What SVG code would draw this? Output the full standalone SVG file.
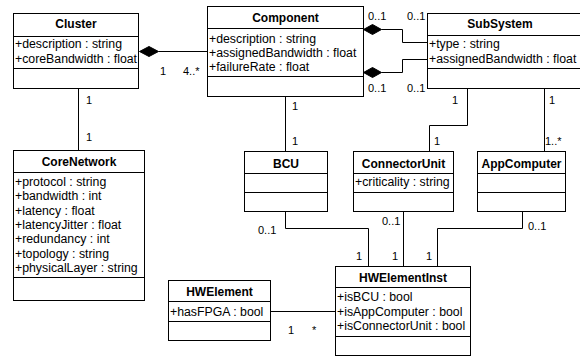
<svg xmlns="http://www.w3.org/2000/svg" width="580" height="358" viewBox="0 0 580 358">
  <style>
    .box { fill: #fff; stroke: #000; stroke-width: 1; }
    .sep { stroke: #000; stroke-width: 1; }
    .title { font-family: "Liberation Sans", Arial, sans-serif; font-size: 12px; font-weight: bold; text-anchor: middle; fill: #000; }
    .attr { font-family: "Liberation Sans", Arial, sans-serif; font-size: 12.3px; fill: #000; }
    .mult { font-family: "Liberation Sans", Arial, sans-serif; font-size: 11px; fill: #000; }
    .edge { fill: none; stroke: #000; stroke-width: 1; }
    .diamond { fill: #000; stroke: #000; stroke-width: 1; }
  </style>
  <rect width="580" height="358" fill="#fff"/>

  <!-- associations and compositions -->
  <g id="connectors">
    <path class="edge" d="M158.5,51.5 H207.5"/>
    <polygon class="diamond" points="139.5,51.5 149,46.5 158.5,51.5 149,56.5"/>
    <path class="edge" d="M381.5,29.5 H402.5 V42.5 H427.5"/>
    <polygon class="diamond" points="363.5,29.5 372.5,24.5 381.5,29.5 372.5,34.5"/>
    <path class="edge" d="M381.5,72.5 H402.5 V59.5 H427.5"/>
    <polygon class="diamond" points="363.5,72.5 372.5,67.5 381.5,72.5 372.5,77.5"/>
    <path class="edge" d="M78.5,88.5 V150.5"/>
    <path class="edge" d="M285.5,96.5 V151.5"/>
    <path class="edge" d="M467.5,88.5 V125.5 H429.5 V151.5"/>
    <path class="edge" d="M544.5,88.5 V151.5"/>
    <path class="edge" d="M285.5,211.5 V228.5 H368.5 V266.5"/>
    <path class="edge" d="M403.5,211.5 V266.5"/>
    <path class="edge" d="M522.5,211.5 V228.5 H437.5 V266.5"/>
    <path class="edge" d="M270.5,311.5 H335.5"/>

    <text class="mult" x="160" y="75">1</text>
    <text class="mult" x="183" y="75">4..*</text>
    <text class="mult" x="368" y="20">0..1</text>
    <text class="mult" x="407" y="20">0..1</text>
    <text class="mult" x="368" y="92">0..1</text>
    <text class="mult" x="407" y="92">0..1</text>
    <text class="mult" x="86" y="104">1</text>
    <text class="mult" x="86" y="141">1</text>
    <text class="mult" x="292" y="110">1</text>
    <text class="mult" x="292" y="145">1</text>
    <text class="mult" x="452" y="104">1</text>
    <text class="mult" x="434" y="145">1</text>
    <text class="mult" x="549" y="104">1</text>
    <text class="mult" x="545" y="145">1..*</text>
    <text class="mult" x="258" y="234">0..1</text>
    <text class="mult" x="382" y="225">0..1</text>
    <text class="mult" x="528" y="230">0..1</text>
    <text class="mult" x="356" y="260">1</text>
    <text class="mult" x="392" y="260">1</text>
    <text class="mult" x="426" y="260">1</text>
    <text class="mult" x="288" y="334">1</text>
    <text class="mult" x="312" y="334">*</text>
  </g>

  <g id="Cluster">
    <rect class="box" x="13.5" y="13.5" width="125" height="75"/>
    <line class="sep" x1="13.5" y1="36.5" x2="138.5" y2="36.5"/>
    <line class="sep" x1="13.5" y1="68.5" x2="138.5" y2="68.5"/>
    <text class="title" x="76" y="28">Cluster</text>
    <text class="attr" x="15" y="48">+description : string</text>
    <text class="attr" x="15" y="63">+coreBandwidth : float</text>
  </g>

  <g id="Component">
    <rect class="box" x="207.5" y="6.5" width="156" height="90"/>
    <line class="sep" x1="207.5" y1="28.5" x2="363.5" y2="28.5"/>
    <line class="sep" x1="207.5" y1="76.5" x2="363.5" y2="76.5"/>
    <text class="title" x="285.5" y="21.5">Component</text>
    <text class="attr" x="209" y="42.5">+description : string</text>
    <text class="attr" x="209" y="57">+assignedBandwidth : float</text>
    <text class="attr" x="209" y="71">+failureRate : float</text>
  </g>

  <g id="SubSystem">
    <rect class="box" x="427.5" y="13.5" width="156" height="75"/>
    <line class="sep" x1="427.5" y1="35.5" x2="583.5" y2="35.5"/>
    <line class="sep" x1="427.5" y1="68.5" x2="583.5" y2="68.5"/>
    <text class="title" x="500" y="28">SubSystem</text>
    <text class="attr" x="429" y="48">+type : string</text>
    <text class="attr" x="429" y="63">+assignedBandwidth : float</text>
  </g>

  <g id="CoreNetwork">
    <rect class="box" x="13.5" y="150.5" width="131" height="150"/>
    <line class="sep" x1="13.5" y1="172.5" x2="144.5" y2="172.5"/>
    <line class="sep" x1="13.5" y1="277.5" x2="144.5" y2="277.5"/>
    <text class="title" x="79" y="166">CoreNetwork</text>
    <text class="attr" x="15" y="186">+protocol : string</text>
    <text class="attr" x="15" y="200.3">+bandwidth : int</text>
    <text class="attr" x="15" y="214.7">+latency : float</text>
    <text class="attr" x="15" y="229">+latencyJitter : float</text>
    <text class="attr" x="15" y="243.3">+redundancy : int</text>
    <text class="attr" x="15" y="257.7">+topology : string</text>
    <text class="attr" x="15" y="272">+physicalLayer : string</text>
  </g>

  <g id="BCU">
    <rect class="box" x="244.5" y="151.5" width="83" height="60"/>
    <line class="sep" x1="244.5" y1="173.5" x2="327.5" y2="173.5"/>
    <line class="sep" x1="244.5" y1="192.5" x2="327.5" y2="192.5"/>
    <text class="title" x="286" y="167.5">BCU</text>
  </g>

  <g id="ConnectorUnit">
    <rect class="box" x="353.5" y="151.5" width="100" height="60"/>
    <line class="sep" x1="353.5" y1="173.5" x2="453.5" y2="173.5"/>
    <line class="sep" x1="353.5" y1="192.5" x2="453.5" y2="192.5"/>
    <text class="title" x="403.5" y="167.5">ConnectorUnit</text>
    <text class="attr" x="355" y="186">+criticality : string</text>
  </g>

  <g id="AppComputer">
    <rect class="box" x="477.5" y="151.5" width="88" height="60"/>
    <line class="sep" x1="477.5" y1="173.5" x2="565.5" y2="173.5"/>
    <line class="sep" x1="477.5" y1="192.5" x2="565.5" y2="192.5"/>
    <text class="title" x="521.5" y="167.5">AppComputer</text>
  </g>

  <g id="HWElementInst">
    <rect class="box" x="335.5" y="266.5" width="135" height="89"/>
    <line class="sep" x1="335.5" y1="287.5" x2="470.5" y2="287.5"/>
    <line class="sep" x1="335.5" y1="336.5" x2="470.5" y2="336.5"/>
    <text class="title" x="403" y="282">HWElementInst</text>
    <text class="attr" x="337" y="301">+isBCU : bool</text>
    <text class="attr" x="337" y="315.5">+isAppComputer : bool</text>
    <text class="attr" x="337" y="330">+isConnectorUnit : bool</text>
  </g>

  <g id="HWElement">
    <rect class="box" x="168.5" y="280.5" width="102" height="60"/>
    <line class="sep" x1="168.5" y1="301.5" x2="270.5" y2="301.5"/>
    <line class="sep" x1="168.5" y1="321.5" x2="270.5" y2="321.5"/>
    <text class="title" x="219.5" y="295.5">HWElement</text>
    <text class="attr" x="170" y="315.5">+hasFPGA : bool</text>
  </g>
</svg>
